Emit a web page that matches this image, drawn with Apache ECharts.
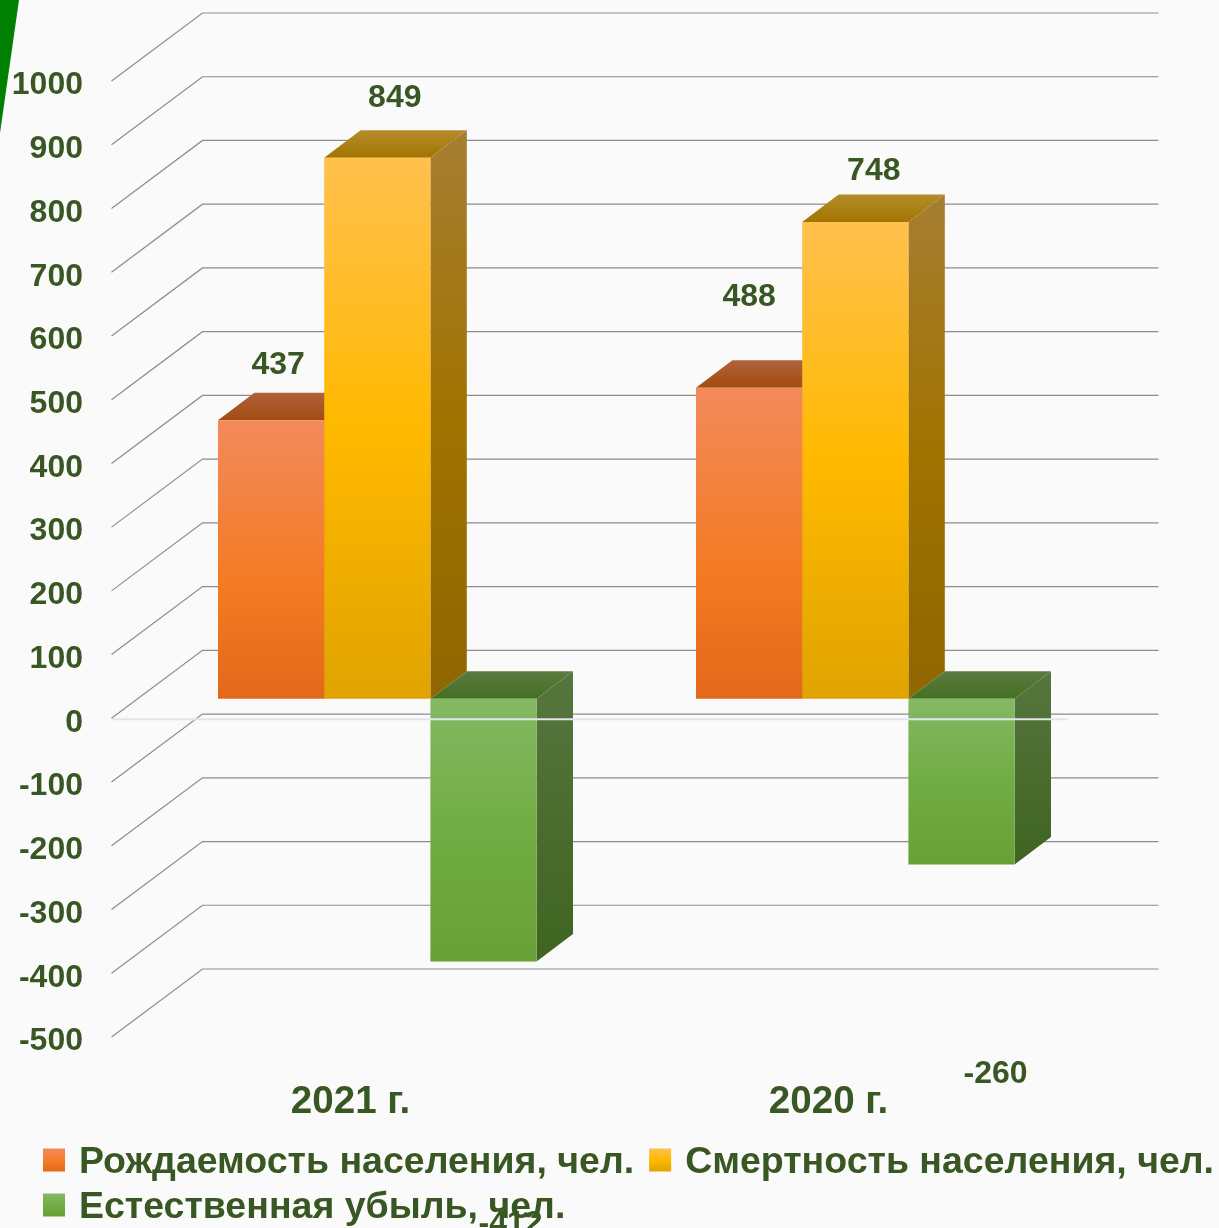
<!DOCTYPE html>
<html lang="ru">

<head>
    <meta charset="UTF-8">
    <title>Естественная убыль населения</title>
    <script src="https://cdn.jsdelivr.net/npm/echarts@6/dist/echarts.min.js"></script>
    <style>
        html, body { margin: 0; padding: 0; background: #fafafa; overflow: hidden; }
        #main { width: 1219px; height: 1228px; }
    </style>
</head>

<body>
    <div id="main"></div>
    <script type="text/javascript">
        // данные
        const categories = ['2021 г.', '2020 г.'];
        const yTicks = [1000, 900, 800, 700, 600, 500, 400, 300, 200, 100, 0, -100, -200, -300, -400, -500];
        const seriesNames = ['Рождаемость населения, чел.', 'Смертность населения, чел.', 'Естественная убыль, чел.'];
        const births = [437, 488];
        const deaths = [849, 748];
        const naturalLoss = [-412, -260];

        // подписи данных сдвинуты вручную, как в оригинале: [dx, dy] от центра края столбца
        const labelShift = [
            [[7, -55.5], [0, -91]],
            [[17.5, -60], [18.5, -51]],
            [[27, 262.5], [34, 210]]
        ];

        const textColor = '#385723';
        const font = 'Liberation Sans';

        // сдвиг задней стенки и глубина столбца
        const wallDx = 91, wallDy = 68;
        const barDx = 26.8, barDy = 19.5;
        const depthDx = 36.4, depthDy = 27.5;
        const barRatio = 106.2 / 478;

        function grad(stops) {
            return {
                type: 'linear', x: 0, y: 0, x2: 0, y2: 1,
                colorStops: stops.map(s => ({ offset: s[0], color: s[1] }))
            };
        }

        const palette = [
            {
                front: grad([[0, '#f38a5c'], [0.6, '#f47a22'], [1, '#e4681a']]),
                top: grad([[0, '#b0623c'], [1, '#a34b10']]),
                side: grad([[0, '#a85a30'], [1, '#8f4a12']]),
                legend: grad([[0, '#f38a5c'], [0.6, '#f47a22'], [1, '#e4681a']])
            },
            {
                front: grad([[0, '#ffc04d'], [0.5, '#ffb900'], [1, '#e0a300']]),
                top: grad([[0, '#b58c2a'], [1, '#a27500']]),
                side: grad([[0, '#a67e32'], [0.5, '#a07300'], [1, '#8f6600']]),
                legend: grad([[0, '#ffc04d'], [0.5, '#ffb900'], [1, '#e0a300']])
            },
            {
                front: grad([[0, '#85b864'], [0.45, '#72ae45'], [1, '#67a036']]),
                top: grad([[0, '#5b7b41'], [1, '#437021']]),
                side: grad([[0, '#56763f'], [1, '#3f6420']]),
                legend: grad([[0, '#85b864'], [0.6, '#6fab40'], [1, '#67a036']])
            }
        ];

        function renderWall(params, api) {
            const rect = params.coordSys;
            const y = api.coord([0, api.value(1)])[1];
            const x0 = rect.x, x1 = rect.x + rect.width;
            return {
                type: 'polyline',
                shape: { points: [[x0, y], [x0 + wallDx, y - wallDy], [x1 + wallDx, y - wallDy]] },
                style: { stroke: '#8c8c8c', lineWidth: 1.2, fill: null },
                silent: true
            };
        }

        function renderBar(s) {
            return function (params, api) {
                const idx = api.value(0);
                const val = api.value(1);
                const c = api.coord([idx, val]);
                const base = api.coord([idx, 0]);
                const w = api.size([1, 0])[0] * barRatio;
                const l = base[0] + barDx + (s - 1.5) * w, r = l + w;
                const yVal = c[1] - barDy, yZero = base[1] - barDy;
                const t = Math.min(yVal, yZero), b = Math.max(yVal, yZero);
                const shift = labelShift[s][idx];
                const edge = val < 0 ? b : t;
                return {
                    type: 'group',
                    children: [
                        {
                            type: 'polygon',
                            shape: { points: [[l, t], [l + depthDx, t - depthDy], [r + depthDx, t - depthDy], [r, t]] },
                            style: { fill: palette[s].top }
                        },
                        {
                            type: 'polygon',
                            shape: { points: [[r, t], [r + depthDx, t - depthDy], [r + depthDx, b - depthDy], [r, b]] },
                            style: { fill: palette[s].side }
                        },
                        {
                            type: 'rect',
                            shape: { x: l, y: t, width: w, height: b - t },
                            style: { fill: palette[s].front }
                        },
                        {
                            type: 'text',
                            x: (l + r) / 2 + shift[0],
                            y: edge + shift[1],
                            style: {
                                text: String(val),
                                fill: textColor,
                                font: 'bold 32px "' + font + '"',
                                align: 'center',
                                verticalAlign: 'middle'
                            }
                        }
                    ]
                };
            };
        }

        function renderZero(params, api) {
            const rect = params.coordSys;
            const y = api.coord([0, 0])[1] + 1;
            return {
                type: 'line',
                shape: { x1: rect.x, y1: y, x2: rect.x + rect.width, y2: y },
                style: { stroke: '#e2e5ee', lineWidth: 2 },
                silent: true
            };
        }

        function legendRow(names, top) {
            return {
                left: 43,
                top: top,
                padding: 0,
                itemWidth: 22,
                itemHeight: 23,
                itemGap: 15,
                icon: 'rect',
                selectedMode: false,
                data: names.map(n => ({ name: n, itemStyle: { color: palette[seriesNames.indexOf(n)].legend } })),
                formatter: n => '{a|' + n + '}',
                textStyle: {
                    color: textColor,
                    rich: {
                        a: {
                            color: textColor,
                            fontFamily: font,
                            fontWeight: 'bold',
                            fontSize: 37.5,
                            padding: [6, 0, 0, 9]
                        }
                    }
                }
            };
        }

        var myChart = echarts.init(document.getElementById('main'), null, { renderer: 'canvas' });

        var option = {
            animation: false,
            backgroundColor: '#fafafa',
            graphic: [{
                type: 'polygon',
                z: 100,
                shape: { points: [[0, 0], [19, 0], [0, 133]] },
                style: { fill: '#008000' }
            }],
            grid: { left: 111.5, top: 81, width: 956, height: 956, containLabel: false },
            legend: [
                legendRow(seriesNames.slice(0, 2), 1144),
                legendRow(seriesNames.slice(2), 1189)
            ],
            xAxis: {
                type: 'category',
                data: categories,
                position: 'bottom',
                axisLine: { show: false, onZero: false },
                axisTick: { show: false },
                splitLine: { show: false },
                axisLabel: {
                    margin: 45.5,
                    color: textColor,
                    fontFamily: font,
                    fontWeight: 'bold',
                    fontSize: 38.6
                }
            },
            yAxis: {
                type: 'value',
                min: -500,
                max: 1000,
                interval: 100,
                axisLine: { show: false },
                axisTick: { show: false },
                splitLine: { show: false },
                axisLabel: {
                    margin: 28.5,
                    color: textColor,
                    fontFamily: font,
                    fontWeight: 'bold',
                    fontSize: 32,
                    verticalAlign: 'top',
                    lineHeight: 9,
                    formatter: v => String(v)
                }
            },
            series: [
                {
                    name: 'wall',
                    type: 'custom',
                    renderItem: renderWall,
                    clip: false,
                    silent: true,
                    data: yTicks.map(t => [0, t])
                }
            ].concat([births, deaths, naturalLoss].map((vals, s) => ({
                name: seriesNames[s],
                type: 'custom',
                renderItem: renderBar(s),
                clip: false,
                itemStyle: { color: palette[s].legend },
                encode: { x: 0, y: 1 },
                data: vals.map((v, i) => [i, v])
            }))).concat([
                {
                    name: 'zero',
                    type: 'custom',
                    renderItem: renderZero,
                    clip: false,
                    silent: true,
                    data: [[0, 0]]
                }
            ])
        };

        myChart.setOption(option);
    </script>
</body>

</html>
